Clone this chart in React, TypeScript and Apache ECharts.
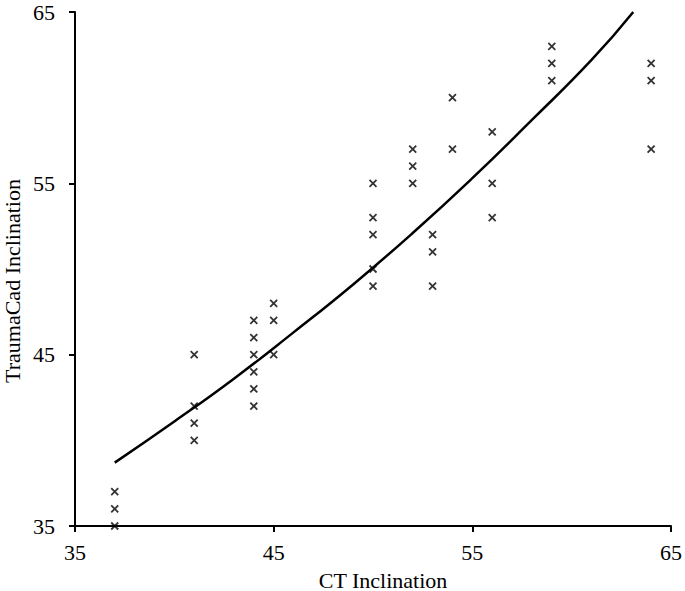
import React, { useEffect, useRef } from "react";
import * as echarts from "echarts";

const ctValues = [37, 37, 37, 41, 41, 41, 41, 44, 44, 44, 44, 44, 44, 45, 45, 45, 50, 50, 50, 50, 50, 52, 52, 52, 53, 53, 53, 54, 54, 56, 56, 56, 59, 59, 59, 64, 64, 64];
const traumaValues = [35, 36, 37, 45, 42, 41, 40, 47, 46, 45, 44, 43, 42, 48, 47, 45, 55, 53, 52, 50, 49, 57, 56, 55, 52, 51, 49, 60, 57, 58, 55, 53, 63, 62, 61, 62, 61, 57];

const trendX = [37, 40, 43, 46, 49, 52, 55, 58, 61, 63.1];
const trendY = [38.7, 41.1, 43.6, 46.3, 49.1, 52.1, 55.3, 58.7, 62.2, 65];

const axisTicks = [35, 45, 55, 65];

const xTitle = "CT Inclination";
const yTitle = "TraumaCad Inclination";

const FONT = "'Liberation Serif', 'Times New Roman', serif";

export default function App() {
  const ref = useRef<HTMLDivElement>(null);
  useEffect(() => {
    if (!ref.current) return;
    const chart = echarts.init(ref.current, null, { renderer: "svg" });
    const scatterData = ctValues.map((x, i) => [x, traumaValues[i]]);
    const lineData = trendX.map((x, i) => [x, trendY[i]]);
    const axisCommon = {
      type: "value",
      min: axisTicks[0],
      max: axisTicks[axisTicks.length - 1],
      interval: 10,
      splitLine: { show: false },
      axisLine: { show: true, lineStyle: { color: "#000", width: 2 } },
      axisTick: { show: true, inside: false, length: 6, lineStyle: { color: "#000", width: 2 } },
    };
    chart.setOption({
      animation: false,
      backgroundColor: "#fff",
      grid: { left: 75, right: 13, top: 12, bottom: 65, containLabel: false },
      xAxis: {
        ...axisCommon,
        axisLabel: { margin: 15, fontFamily: FONT, fontSize: 22, color: "#000" },
      },
      yAxis: {
        ...axisCommon,
        axisLabel: { margin: 20, fontFamily: FONT, fontSize: 22, color: "#000" },
      },
      graphic: [
        {
          type: "text",
          x: 383,
          y: 580,
          style: { text: xTitle, font: `22px ${FONT}`, fill: "#000", align: "center", verticalAlign: "middle" },
        },
        {
          type: "text",
          x: 12.5,
          y: 281,
          rotation: Math.PI / 2,
          style: { text: yTitle, font: `22px ${FONT}`, fill: "#000", align: "center", verticalAlign: "middle" },
        },
      ],
      series: [
        {
          type: "scatter",
          data: scatterData,
          symbol: "path://M0,0L10,10M10,0L0,10",
          symbolSize: 7,
          clip: false,
          itemStyle: { color: "transparent", borderColor: "#000", borderWidth: 1.8 },
        },
        {
          type: "line",
          data: lineData,
          smooth: true,
          showSymbol: false,
          symbol: "none",
          lineStyle: { color: "#000", width: 2.5 },
        },
      ],
    });
    return () => chart.dispose();
  }, []);
  return <div ref={ref} style={{ width: 685, height: 591, position: "absolute", left: 0, top: 0 }} />;
}
